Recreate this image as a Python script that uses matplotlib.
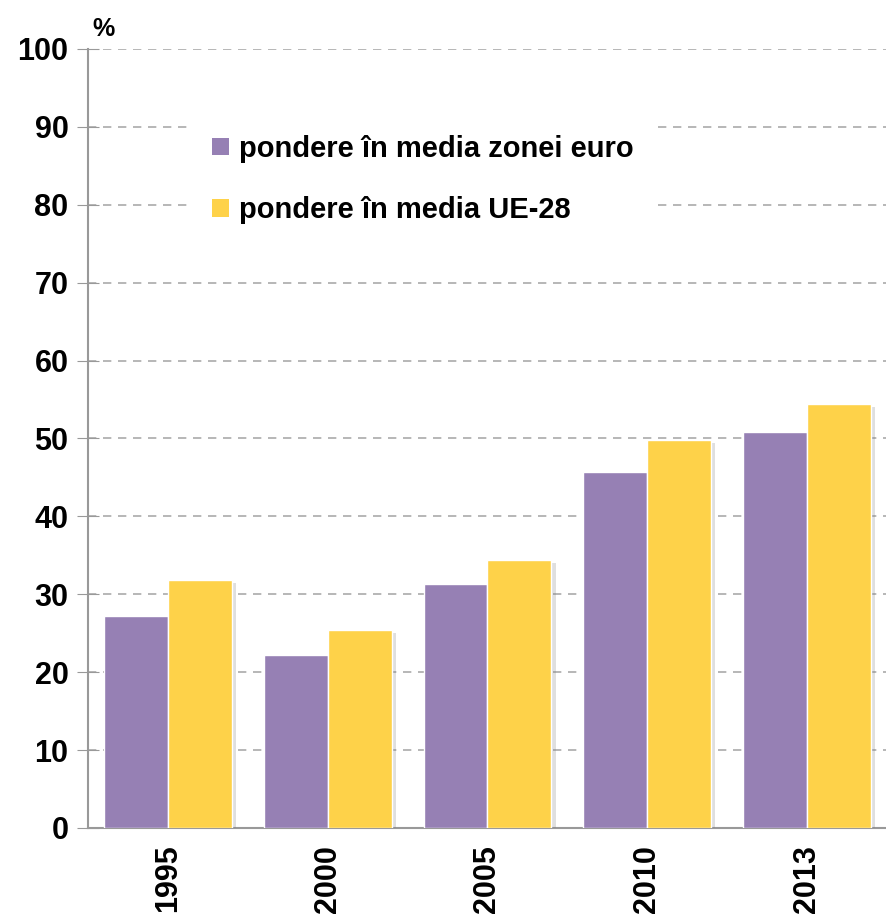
import numpy as np
import matplotlib.pyplot as plt
import matplotlib.patheffects as pe

years = ["1995", "2000", "2005", "2010", "2013"]
euro_area = [27.2, 22.2, 31.3, 45.7, 50.8]
eu28 = [31.8, 25.4, 34.4, 49.8, 54.4]
labels = ["pondere în media zonei euro", "pondere în media UE-28"]

purple = "#9680B4"
yellow = "#FED249"

plt.rcParams['font.family'] = ['Liberation Sans', 'DejaVu Sans']
plt.rcParams['font.weight'] = 'bold'

fig = plt.figure(figsize=(8.87, 9.21), dpi=100)
ax = fig.add_axes([0.0992, 0.101, 0.9008, 0.8458])

x = np.arange(len(years))
w = 0.4
shadow = [pe.SimplePatchShadow(offset=(3, -2), shadow_rgbFace="gray", alpha=0.25), pe.Normal()]
ax.bar(x - w / 2, euro_area, w, color=purple, edgecolor="white", linewidth=1,
       label=labels[0], zorder=3, path_effects=shadow)
ax.bar(x + w / 2, eu28, w, color=yellow, edgecolor="white", linewidth=1,
       label=labels[1], zorder=3, path_effects=shadow)

ax.set_xlim(-0.5, 4.5)
ax.set_ylim(0, 100)
ax.set_yticks(range(0, 101, 10))
ax.set_xticks(x)
ax.set_xticklabels(years, rotation=90, fontsize=22)
ax.tick_params(axis="y", labelsize=22, direction="inout", length=16, color="#999999", pad=6)
ax.tick_params(axis="x", length=0, pad=12)
ax.yaxis.grid(True, linestyle=(0, (5, 4)), color="#aaaaaa", linewidth=1.2, zorder=0)
ax.set_axisbelow(True)
for s in ["top", "right"]:
    ax.spines[s].set_visible(False)
for s in ["left", "bottom"]:
    ax.spines[s].set_color("#999999")
    ax.spines[s].set_linewidth(1.5)

ax.text(0.005, 1.01, "%", transform=ax.transAxes, fontsize=18, fontweight="bold", va="bottom")

leg = ax.legend(loc="upper left", bbox_to_anchor=(0.112, 0.935), fontsize=21, frameon=True,
                fancybox=False, edgecolor="none", facecolor="white", framealpha=1,
                handlelength=0.55, handleheight=0.55, handletextpad=0.35, labelspacing=1.15,
                borderpad=0.7)
leg.set_zorder(4)
for h in leg.legend_handles:
    h.set_path_effects([])
    h.set_edgecolor("none")

fig.savefig("out.png", dpi=100)
